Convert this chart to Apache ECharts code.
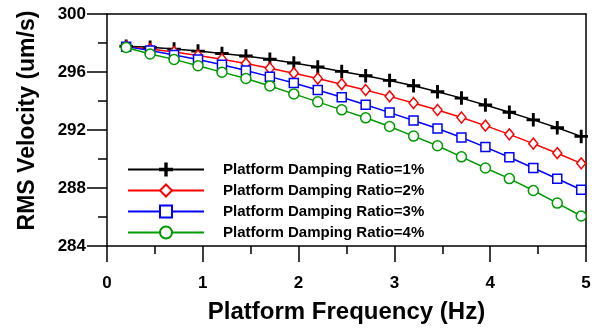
<!doctype html>
<html>
<head>
<meta charset="utf-8">
<title>RMS Velocity vs Platform Frequency</title>
<script src="https://cdn.jsdelivr.net/npm/echarts@6/dist/echarts.min.js"></script>
</head>
<body style="margin:0;background:#fff;">
<div id="container" style="width:610px;height:329px;"></div>
<script type="text/javascript">
    // frequency points (Hz)
    var freq = [0.2, 0.45, 0.7, 0.95, 1.2, 1.45, 1.7, 1.95, 2.2, 2.45,
                2.7, 2.95, 3.2, 3.45, 3.7, 3.95, 4.2, 4.45, 4.7, 4.95];
    var names = ['Platform Damping Ratio=1%', 'Platform Damping Ratio=2%',
                 'Platform Damping Ratio=3%', 'Platform Damping Ratio=4%'];
    var ratio1 = [297.78, 297.70, 297.58, 297.44, 297.28, 297.10, 296.88, 296.62, 296.34, 296.04,
                  295.74, 295.42, 295.05, 294.64, 294.20, 293.72, 293.22, 292.70, 292.16, 291.56];
    var ratio2 = [297.75, 297.58, 297.38, 297.14, 296.88, 296.58, 296.26, 295.92, 295.55, 295.16,
                  294.76, 294.32, 293.86, 293.38, 292.86, 292.30, 291.70, 291.06, 290.40, 289.70];
    var ratio3 = [297.75, 297.48, 297.18, 296.86, 296.50, 296.10, 295.68, 295.24, 294.76, 294.26,
                  293.74, 293.20, 292.66, 292.10, 291.48, 290.82, 290.12, 289.38, 288.64, 287.88];
    var ratio4 = [297.69, 297.24, 296.87, 296.43, 295.99, 295.55, 295.04, 294.49, 293.94, 293.39,
                  292.84, 292.24, 291.58, 290.91, 290.15, 289.38, 288.65, 287.83, 286.96, 286.07];

    var plus = 'path://M5.3,0 H6.7 V5.3 H12 V6.7 H6.7 V12 H5.3 V6.7 H0 V5.3 H5.3 Z';
    var font = 'Liberation Sans';
    var tickStyle = { color: '#000', width: 1.5 };
    var axisStyle = { color: '#000', width: 1.5 };

    function pairs(ys) {
        return freq.map(function (x, i) { return [x, ys[i]]; });
    }

    function line(name, ys, color, symbol, size, fill) {
        return {
            name: name,
            type: 'line',
            data: pairs(ys),
            symbol: symbol,
            symbolSize: size,
            showAllSymbol: true,
            lineStyle: { color: color, width: 1.5 },
            itemStyle: { color: fill, borderColor: color, borderWidth: 1.5 },
            emphasis: { disabled: true },
            z: 3
        };
    }

    // plain line for the top / right frame of the plot
    function frame(type, pos, min, max) {
        return {
            type: 'value', position: pos, min: min, max: max,
            axisLine: { show: true, onZero: false, lineStyle: axisStyle },
            axisTick: { show: false }, axisLabel: { show: false }, splitLine: { show: false }
        };
    }

    var option = {
        animation: false,
        textStyle: { fontFamily: font },
        grid: { left: 107, right: 24, top: 14, bottom: 72 },
        legend: {
            orient: 'vertical',
            left: 127, top: 162, padding: 0,
            itemWidth: 76, itemHeight: 15, itemGap: 6,
            textStyle: { fontFamily: font, fontWeight: 'bold', fontSize: 15, color: '#000', padding: [0, 0, 0, 14] },
            data: names
        },
        xAxis: [{
            type: 'value',
            position: 'bottom',
            min: 0, max: 5, interval: 1,
            name: 'Platform Frequency (Hz)',
            nameLocation: 'middle',
            nameGap: 54,
            nameTextStyle: { fontFamily: font, fontWeight: 'bold', fontSize: 24, color: '#000' },
            axisLine: { show: true, onZero: false, lineStyle: axisStyle },
            axisTick: { show: true, length: 16, lineStyle: tickStyle },
            minorTick: { show: true, splitNumber: 2, length: 8, lineStyle: tickStyle },
            axisLabel: { margin: 29, fontFamily: font, fontWeight: 'bold', fontSize: 17, color: '#000' },
            splitLine: { show: false }
        }, frame('x', 'top', 0, 5)],
        yAxis: [{
            type: 'value',
            position: 'left',
            min: 284, max: 300, interval: 4,
            name: 'RMS Velocity (um/s)',
            nameLocation: 'middle',
            nameGap: 68,
            nameTextStyle: { fontFamily: font, fontWeight: 'bold', fontSize: 23, color: '#000', padding: [0, 0, 0, 19] },
            axisLine: { show: true, onZero: false, lineStyle: axisStyle },
            axisTick: { show: true, length: 20, lineStyle: tickStyle },
            minorTick: { show: true, splitNumber: 2, length: 9, lineStyle: tickStyle },
            axisLabel: { margin: 21, fontFamily: font, fontWeight: 'bold', fontSize: 17, color: '#000' },
            splitLine: { show: false }
        }, frame('y', 'right', 284, 300)],
        series: [
            line(names[0], ratio1, '#000000', plus, 12, '#000000'),
            line(names[1], ratio2, '#ff0000', 'diamond', [9, 11], '#ffffff'),
            line(names[2], ratio3, '#0000ff', 'rect', 9, '#ffffff'),
            line(names[3], ratio4, '#009a00', 'circle', 10, '#ffffff')
        ]
    };

    var myChart = echarts.init(document.getElementById('container'));
    myChart.setOption(option);
</script>
</body>
</html>
